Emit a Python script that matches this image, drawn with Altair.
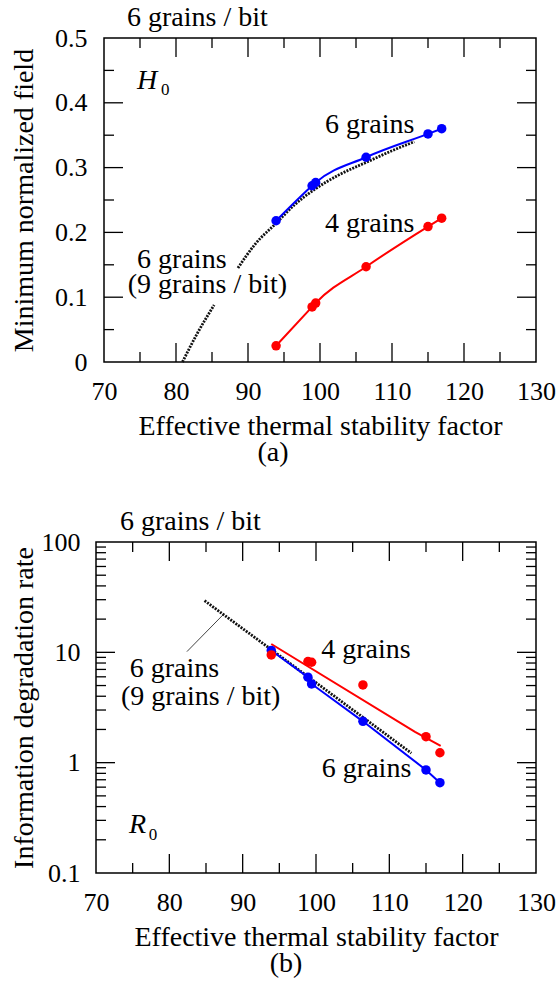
import altair as alt
import pandas as pd

FONT = "Liberation Serif"
BLUE = "#0000ff"
RED = "#ff0000"

# Effective thermal stability factor of the simulated media
delta = [93.9, 98.9, 99.4, 106.4, 115.0, 116.9]

# (a) minimum normalized field H0
h0_six = [0.218, 0.272, 0.277, 0.316, 0.352, 0.360]
h0_four = [0.025, 0.085, 0.091, 0.147, 0.209, 0.222]
# 6 grains at 9 grains/bit (dotted); broken where its label sits
h0_nine_lo_x = [80.9, 83.0, 85.3]
h0_nine_lo_y = [0.0, 0.045, 0.088]
h0_nine_hi_x = [88.6, 91.0, 93.9, 96.5, 99.2, 102.5, 106.6, 110.0, 113.1]
h0_nine_hi_y = [0.145, 0.182, 0.214, 0.243, 0.266, 0.288, 0.309, 0.326, 0.340]

# (b) information degradation rate R0
r0_six = [10.4, 5.95, 5.17, 2.37, 0.859, 0.659]
r0_four = [9.47, 8.24, 8.13, 5.06, 1.72, 1.23]
r0_four_fit_x = [93.9, 113.5, 117.0]
r0_four_fit_y = [11.9, 1.9, 1.42]
r0_nine_x = [84.8, 93.9, 113.0]
r0_nine_y = [29.4, 10.6, 1.22]
r0_leader_x = [82.4, 87.3]
r0_leader_y = [10.15, 21.8]

# axis ticks
x_labels = [70, 80, 90, 100, 110, 120, 130]
x_major = [80, 90, 100, 110, 120]
x_minor = [75, 85, 95, 105, 115, 125]
h0_labels = [0, 0.1, 0.2, 0.3, 0.4, 0.5]
h0_major = [0.1, 0.2, 0.3, 0.4]
h0_minor = [0.05, 0.15, 0.25, 0.35, 0.45]
r0_labels = [0.1, 1, 10, 100]
r0_major = [1, 10]
r0_minor = [k * 10.0 ** e for e in (-1, 0, 1) for k in range(2, 10)]

MAJOR_LEN, MINOR_LEN = 19, 10
GROUP_W = 440  # both panels share the group width; panel (a) frame starts 8 px in


def panel(x0, h, yscale, yaxis, y_major, y_minor, series, notes,
          caption, caption_x, head_x):
    w = GROUP_W
    xscale = alt.Scale(domain=[70, 130], nice=False, zero=False, range=[x0, w])
    xaxis = alt.Axis(values=x_labels, format="d", title="Effective thermal stability factor",
                     grid=False, ticks=False, tickSize=0, domain=False,
                     labelFont=FONT, labelFontSize=26, labelColor="black",
                     labelPadding=37, labelBaseline="alphabetic", labelFlush=False,
                     titleFont=FONT, titleFontSize=28, titleFontWeight="normal",
                     titleColor="black", titleBaseline="alphabetic", titleY=72)

    def X(f):
        return alt.X(f"{f}:Q", scale=xscale, axis=xaxis)

    def Y(f):
        return alt.Y(f"{f}:Q", scale=yscale, axis=yaxis)

    layers = []
    # frame of the plotting area
    layers.append(alt.Chart(pd.DataFrame({"k": [0]})).mark_rect(
        fillOpacity=0, stroke="black", strokeWidth=1.5
    ).encode(x=alt.value(x0), x2=alt.value(w), y=alt.value(0), y2=alt.value(h)))
    # inward ticks on all four sides
    for vals, ln in ((x_major, MAJOR_LEN), (x_minor, MINOR_LEN)):
        base = alt.Chart(pd.DataFrame({"v": vals})).mark_rule(color="black", strokeWidth=1.3)
        layers.append(base.encode(x=X("v"), y=alt.value(h), y2=alt.value(h - ln)))
        layers.append(base.encode(x=X("v"), y=alt.value(0), y2=alt.value(ln)))
    for vals, ln in ((y_major, MAJOR_LEN), (y_minor, MINOR_LEN)):
        base = alt.Chart(pd.DataFrame({"v": vals})).mark_rule(color="black", strokeWidth=1.3)
        layers.append(base.encode(y=Y("v"), x=alt.value(x0), x2=alt.value(x0 + ln)))
        layers.append(base.encode(y=Y("v"), x=alt.value(w), x2=alt.value(w - ln)))

    for kind, df, opts in series:
        if kind == "line":
            layers.append(alt.Chart(df).mark_line(**opts).encode(x=X("x"), y=Y("y")))
        elif kind == "dots":
            layers.append(alt.Chart(df).mark_circle(opacity=1, **opts).encode(x=X("x"), y=Y("y")))
        elif kind == "rule":
            layers.append(alt.Chart(df).mark_rule(**opts).encode(
                x=X("x"), y=Y("y"), x2="x2:Q", y2="y2:Q"))

    for df, opts in notes:
        layers.append(alt.Chart(df).mark_text(
            font=FONT, align="left", baseline="alphabetic", color="black", **opts
        ).encode(x=X("x"), y=Y("y"), text="t:N"))

    # heading above the frame and caption below the axis title
    layers.append(alt.Chart(pd.DataFrame({"t": ["6 grains / bit"]})).mark_text(
        font=FONT, fontSize=28, align="left", baseline="alphabetic", color="black"
    ).encode(text="t:N", x=alt.value(head_x), y=alt.value(-12)))
    layers.append(alt.Chart(pd.DataFrame({"t": [caption]})).mark_text(
        font=FONT, fontSize=28, align="center", baseline="alphabetic", color="black"
    ).encode(text="t:N", x=alt.value(caption_x), y=alt.value(h + 99)))

    return alt.layer(*layers).properties(width=w, height=h)


def y_axis(title, values, fmt, pad, tx):
    return alt.Axis(values=values, format=fmt, title=title, grid=False, ticks=False,
                    tickSize=0, domain=False, labelFont=FONT, labelFontSize=26,
                    labelColor="black", labelPadding=pad, labelFlush=False,
                    titleFont=FONT, titleFontSize=28, titleFontWeight="normal",
                    titleColor="black", titleBaseline="alphabetic", titleAngle=270,
                    titleAlign="center", titleX=tx)


def xy(xs, ys):
    return pd.DataFrame({"x": xs, "y": ys})


def texts(rows):
    return pd.DataFrame(rows, columns=["x", "y", "t"])


DOTTED = dict(color="#111111", strokeWidth=2.8, strokeDash=[2, 1.2])

# ---- (a) H0 ----
series_a = [
    ("line", xy(h0_nine_lo_x, h0_nine_lo_y), dict(interpolate="monotone", **DOTTED)),
    ("line", xy(h0_nine_hi_x, h0_nine_hi_y), dict(interpolate="monotone", **DOTTED)),
    ("line", xy(delta, h0_six), dict(color=BLUE, strokeWidth=2, interpolate="monotone")),
    ("line", xy(delta, h0_four), dict(color=RED, strokeWidth=2, interpolate="monotone")),
    ("dots", xy(delta, h0_six), dict(color=BLUE, size=90)),
    ("dots", xy(delta, h0_four), dict(color=RED, size=90)),
]
notes_a = [
    (texts([[100.7, 0.353, "6 grains"], [100.7, 0.201, "4 grains"],
            [74.6, 0.145, "6 grains"], [73.3, 0.106, "(9 grains / bit)"]]),
     dict(fontSize=28)),
    (texts([[74.6, 0.421, "H"]]), dict(fontSize=28, fontStyle="italic")),
    (texts([[77.9, 0.412, "0"]]), dict(fontSize=17)),
]
chart_a = panel(
    8, 324,
    alt.Scale(domain=[0, 0.5], nice=False, zero=False),
    y_axis("Minimum normalized field", h0_labels, ".1~f", 9, -63.5),
    h0_major, h0_minor, series_a, notes_a, "(a)", 177, 31,
)

# ---- (b) R0 ----
leader = pd.DataFrame({"x": [r0_leader_x[0]], "y": [r0_leader_y[0]],
                       "x2": [r0_leader_x[1]], "y2": [r0_leader_y[1]]})
series_b = [
    ("rule", leader, dict(color="#444444", strokeWidth=1)),
    ("line", xy(r0_nine_x, r0_nine_y), DOTTED),
    ("line", xy(delta, r0_six), dict(color=BLUE, strokeWidth=2)),
    ("line", xy(r0_four_fit_x, r0_four_fit_y), dict(color=RED, strokeWidth=2)),
    ("dots", xy(delta, r0_six), dict(color=BLUE, size=90)),
    ("dots", xy(delta, r0_four), dict(color=RED, size=90)),
]
notes_b = [
    (texts([[100.7, 8.89, "4 grains"], [100.8, 0.746, "6 grains"],
            [74.6, 6.02, "6 grains"], [73.4, 3.34, "(9 grains / bit)"]]),
     dict(fontSize=28)),
    (texts([[74.5, 0.231, "R"]]), dict(fontSize=28, fontStyle="italic")),
    (texts([[77.2, 0.199, "0"]]), dict(fontSize=17)),
]
chart_b = panel(
    0, 331,
    alt.Scale(type="log", domain=[0.1, 100], nice=False),
    y_axis("Information degradation rate", r0_labels, "~g", 16, -64),
    r0_major, r0_minor, series_b, notes_b, "(b)", 190, 24,
)

chart = alt.vconcat(chart_a, chart_b, spacing=41).properties(
    padding={"left": 9, "top": 4, "right": 0, "bottom": 0},
    background="white",
).configure_view(strokeWidth=0)

chart.save("out.html", embed_options={"renderer": "svg", "actions": False})
